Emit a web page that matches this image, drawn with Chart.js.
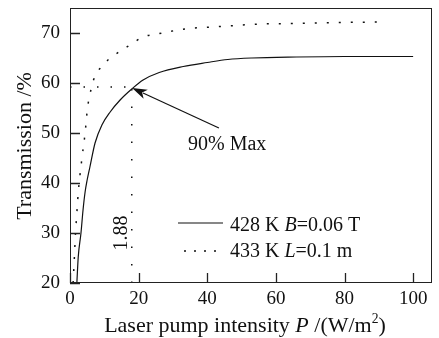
<!DOCTYPE html>
<html>
<head>
<meta charset="utf-8">
<script src="https://cdn.jsdelivr.net/npm/chart.js@4.4.1/dist/chart.umd.min.js"></script>
<style>
  html, body { margin: 0; padding: 0; background: #fff; }
  #wrap { width: 439px; height: 338px; }
</style>
</head>
<body>
<div id="wrap"><canvas id="chart"></canvas></div>
<script>
// curve
const solidX = [2.0, 2.4, 3.2, 3.8, 4.4, 5.0, 5.8, 7.3, 9.3, 11.7, 14.6, 18, 21.3, 26, 33, 40, 46, 53, 66, 80, 100];
const solidY = [20, 25.2, 30, 34.6, 38.2, 40.6, 43.2, 48, 51.6, 54.2, 56.6, 58.8, 60.6, 62.1, 63.3, 64.1, 64.7, 65.0, 65.2, 65.3, 65.3];

const dotX = [0.9, 1.1, 1.4, 1.6, 1.9, 2.4, 3.4, 4.4, 5.1, 5.6, 6.8, 9.3, 11.4, 13.4, 17.5, 21.3, 25.4, 33.5, 43.7, 56, 66, 78, 92];
const dotY = [20, 22.5, 27, 30, 33, 38, 44.5, 50, 55, 57, 60.5, 63.4, 64.8, 65.8, 67.6, 69.2, 69.8, 70.8, 71.3, 71.8, 71.9, 72.1, 72.2];

// 90% max marker lines
const vLineX = [18, 18];
const vLineY = [20, 58.8];
const hLineX = [0, 18];
const hLineY = [59.2, 59.2];

// arrow (tail -> tip), in data units
const arrowX = [43.4, 18.1];
const arrowY = [51, 59];
const xTicks = [0, 20, 40, 60, 80, 100];
const yTicks = [20, 30, 40, 50, 60, 70];

const FONT = '"Liberation Serif", "Times New Roman", serif';
const INK = '#111';

function pts(xs, ys) {
  return xs.map((x, i) => ({ x: x, y: ys[i] }));
}

function richWidth(ctx, parts, size) {
  let w = 0;
  parts.forEach(p => {
    ctx.font = (p.i ? 'italic ' : '') + (p.sup ? size * 0.62 : size) + 'px ' + FONT;
    w += ctx.measureText(p.t).width;
  });
  return w;
}

function drawRich(ctx, parts, x, y, size) {
  let cx = x;
  parts.forEach(p => {
    ctx.font = (p.i ? 'italic ' : '') + (p.sup ? size * 0.62 : size) + 'px ' + FONT;
    ctx.fillText(p.t, cx, p.sup ? y - size * 0.4 : y);
    cx += ctx.measureText(p.t).width;
  });
}

const decor = {
  id: 'decor',
  afterDatasetsDraw(chart) {
    const ctx = chart.ctx;
    const a = chart.chartArea;
    const xs = chart.scales.x, ys = chart.scales.y;
    ctx.save();

    // frame
    ctx.strokeStyle = '#222';
    ctx.lineWidth = 1;
    ctx.strokeRect(a.left + 0.5, a.top + 0.5, a.right - a.left - 1, a.bottom - a.top - 1);

    // inward ticks
    ctx.lineWidth = 1.3;
    ctx.beginPath();
    xTicks.forEach(v => {
      const px = Math.round(xs.getPixelForValue(v)) + 0.5;
      ctx.moveTo(px, a.bottom);
      ctx.lineTo(px, a.bottom - 10);
    });
    yTicks.forEach(v => {
      const py = Math.round(ys.getPixelForValue(v)) + 0.5;
      ctx.moveTo(a.left, py);
      ctx.lineTo(a.left + 10, py);
    });
    ctx.stroke();

    // arrow
    const x0 = xs.getPixelForValue(arrowX[0]), y0 = ys.getPixelForValue(arrowY[0]);
    const x1 = xs.getPixelForValue(arrowX[1]), y1 = ys.getPixelForValue(arrowY[1]);
    const ang = Math.atan2(y1 - y0, x1 - x0);
    const hl = 15, hw = 5;
    const bx = x1 - hl * Math.cos(ang), by = y1 - hl * Math.sin(ang);
    ctx.strokeStyle = INK;
    ctx.lineWidth = 1.2;
    ctx.beginPath();
    ctx.moveTo(x0, y0);
    ctx.lineTo(bx + 3 * Math.cos(ang), by + 3 * Math.sin(ang));
    ctx.stroke();
    ctx.fillStyle = INK;
    ctx.beginPath();
    ctx.moveTo(x1, y1);
    ctx.lineTo(bx - hw * Math.sin(ang), by + hw * Math.cos(ang));
    ctx.lineTo(bx + 4 * Math.cos(ang), by + 4 * Math.sin(ang));
    ctx.lineTo(bx + hw * Math.sin(ang), by - hw * Math.cos(ang));
    ctx.closePath();
    ctx.fill();

    // annotation texts
    ctx.fillStyle = INK;
    ctx.textBaseline = 'alphabetic';
    ctx.textAlign = 'left';
    ctx.font = '20px ' + FONT;
    ctx.fillText('90% Max', a.left + 118, a.top + 142);

    ctx.save();
    ctx.translate(a.left + 57, a.top + 225);
    ctx.rotate(-Math.PI / 2);
    ctx.textAlign = 'center';
    ctx.fillText('1.88', 0, 0);
    ctx.restore();

    // legend
    const lx = a.left + 108, ly1 = a.top + 215, ly2 = a.top + 243;
    ctx.lineWidth = 1.2;
    ctx.strokeStyle = INK;
    ctx.beginPath();
    ctx.moveTo(lx, ly1);
    ctx.lineTo(lx + 45, ly1);
    ctx.stroke();
    ctx.setLineDash([2, 8]);
    ctx.lineWidth = 1.5;
    ctx.beginPath();
    ctx.moveTo(lx + 6, ly2);
    ctx.lineTo(lx + 45, ly2);
    ctx.stroke();
    ctx.setLineDash([]);
    drawRich(ctx, [{ t: '428 K ' }, { t: 'B', i: true }, { t: '=0.06 T' }], lx + 52, ly1 + 8, 20);
    drawRich(ctx, [{ t: '433 K ' }, { t: 'L', i: true }, { t: '=0.1 m' }], lx + 52, ly2 + 6, 20);

    // axis titles
    const xt = [{ t: 'Laser pump intensity ' }, { t: 'P', i: true }, { t: ' /(W/m' }, { t: '2', sup: true }, { t: ')' }];
    const w = richWidth(ctx, xt, 22);
    drawRich(ctx, xt, (a.left + a.right) / 2 - 6 - w / 2, 332, 22);

    ctx.save();
    ctx.translate(31, 146);
    ctx.rotate(-Math.PI / 2);
    ctx.textAlign = 'center';
    ctx.font = '22px ' + FONT;
    ctx.fillText('Transmission /%', 0, 0);
    ctx.restore();

    ctx.restore();
  }
};

new Chart(document.getElementById('chart'), {
  type: 'line',
  data: {
    datasets: [
      {
        label: '428 K B=0.06 T',
        data: pts(solidX, solidY),
        borderColor: INK,
        borderWidth: 1.2,
        pointRadius: 0,
        cubicInterpolationMode: 'monotone'
      },
      {
        label: '433 K L=0.1 m',
        data: pts(dotX, dotY),
        borderColor: INK,
        borderWidth: 1.5,
        borderDash: [2, 10],
        pointRadius: 0,
        cubicInterpolationMode: 'monotone'
      },
      {
        label: 'vertical',
        data: pts(vLineX, vLineY),
        borderColor: INK,
        borderWidth: 1.5,
        borderDash: [1.5, 16],
        pointRadius: 0
      },
      {
        label: 'horizontal',
        data: pts(hLineX, hLineY),
        borderColor: INK,
        borderWidth: 1.5,
        borderDash: [1.5, 12],
        pointRadius: 0
      }
    ]
  },
  options: {
    responsive: true,
    maintainAspectRatio: false,
    animation: false,
    devicePixelRatio: 1,
    layout: { padding: { top: 8, right: 7, left: 0, bottom: 0 } },
    scales: {
      x: {
        type: 'linear',
        min: 0,
        max: 105.5,
        afterBuildTicks: s => { s.ticks = xTicks.map(v => ({ value: v })); },
        afterFit: s => { s.height = 55; s.paddingLeft = 0; s.paddingRight = 0; },
        grid: { display: false, tickLength: 0 },
        border: { display: false },
        ticks: { color: INK, padding: 5, maxRotation: 0, font: { family: FONT, size: 19 } }
      },
      y: {
        min: 20,
        max: 75,
        afterBuildTicks: s => { s.ticks = yTicks.map(v => ({ value: v })); },
        afterFit: s => { s.width = 70; s.paddingTop = 0; s.paddingBottom = 0; },
        grid: { display: false, tickLength: 0 },
        border: { display: false },
        ticks: { color: INK, padding: 10, font: { family: FONT, size: 19 } }
      }
    },
    plugins: {
      legend: { display: false },
      tooltip: { enabled: false }
    }
  },
  plugins: [decor]
});
</script>
</body>
</html>
